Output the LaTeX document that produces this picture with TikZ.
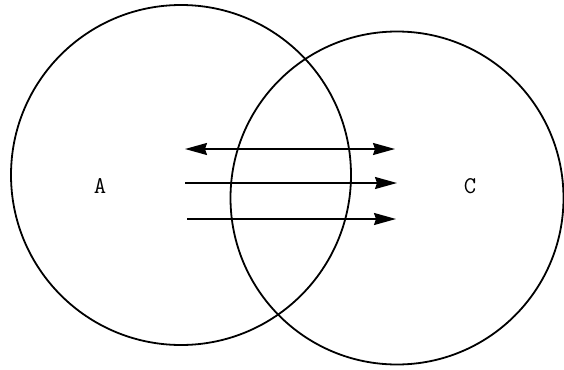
\documentclass[tikz,border=0pt]{standalone}
\usepackage{fontspec}
\usetikzlibrary{arrows.meta,positioning}
\begin{document}
\begin{tikzpicture}[x=1pt,y=-1pt,
				region/.style={circle, draw, line width=1.8pt, inner sep=0pt},
				tag/.style={font=\ttfamily\fontsize{24}{24}\selectfont},
				flow/.style={-{Stealth[length=22pt,width=12pt,inset=2pt]}, line width=1.6pt},
				both/.style={{Stealth[length=22pt,width=12pt,inset=2pt]}-{Stealth[length=22pt,width=12pt,inset=2pt]}, line width=1.6pt}
				]
				\useasboundingbox (0,0) rectangle (564,369);
				\node[region, minimum size=340pt] (regA) at (181,175) {};
				\node[region, minimum size=333pt] (regC) at (397,198) {};
				\node[tag] (a) at (100,186) {A};
				\node[tag] (c) at (470,186) {C};
				
				\coordinate (s1) at (185,149);
				\coordinate (e1) at (395,149);
				\coordinate (s2) at (185,183);
				\coordinate (e2) at (397,183);
				\coordinate (s3) at (187,219);
				\coordinate (e3) at (396,219);
				
				\draw[both] (s1)--(e1);
				\draw[flow] (s2)--(e2);
				\draw[flow] (s3)--(e3);
		\end{tikzpicture}
\end{document}
